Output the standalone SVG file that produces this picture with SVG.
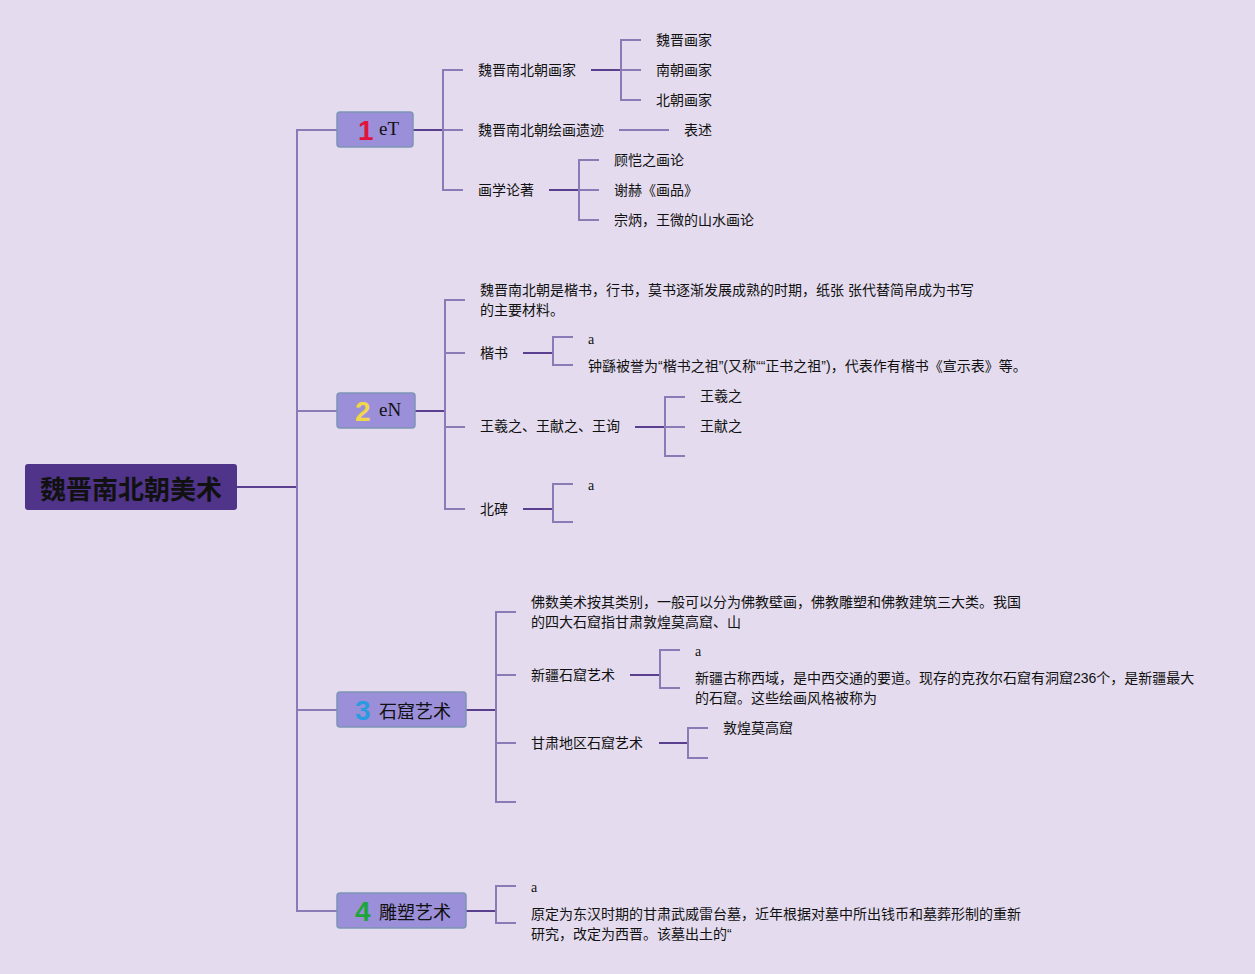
<svg xmlns="http://www.w3.org/2000/svg" width="1255" height="974" viewBox="0 0 1255 974">
<style>
.t{font-family:"Liberation Sans","Noto Sans CJK SC",sans-serif;font-size:14px;fill:#111;dominant-baseline:central}
.s{font-family:"Liberation Serif",serif;font-size:14px;fill:#111;dominant-baseline:central}
.l{stroke:#8a7bb6;stroke-width:2;fill:none}
.d{stroke:#5b3f8f;stroke-width:2;fill:none}
.n{fill:#9b8fd9;stroke:#7d95b5;stroke-width:1.5}
.num{font-family:"Liberation Sans",sans-serif;font-weight:bold;font-size:28px;dominant-baseline:central}
.nt{font-family:"Noto Sans CJK SC","Liberation Sans",sans-serif;font-size:18px;fill:#111;dominant-baseline:central}
.ns{font-family:"Liberation Serif",serif;font-size:19px;fill:#111;dominant-baseline:central}
</style>
<rect width="1255" height="974" fill="#e4dcee"/>
<g id="connectors">
<path class="d" d="M237 487H297"/>
<path class="l" d="M337 130H297V911H337M297 411H337M297 710H337"/>
<path class="d" d="M413 130H443"/>
<path class="l" d="M463 70H443V190H463M443 130H463"/>
<path class="d" d="M591 70H621"/>
<path class="l" d="M641 40H621V100H641M621 70H641"/>
<path class="l" d="M619 130H669"/>
<path class="d" d="M549 190H579"/>
<path class="l" d="M599 160H579V220H599M579 190H599"/>
<path class="d" d="M415 411H445"/>
<path class="l" d="M465 300H445V509H465M445 353H465M445 427H465"/>
<path class="d" d="M523 353H553"/>
<path class="l" d="M573 337H553V365H573"/>
<path class="d" d="M635 427H665"/>
<path class="l" d="M685 397H665V456H685M665 427H685"/>
<path class="d" d="M523 509H553"/>
<path class="l" d="M573 484H553V522H573"/>
<path class="d" d="M466 710H496"/>
<path class="l" d="M516 612H496V802H516M496 675H516M496 743H516"/>
<path class="d" d="M630 675H660"/>
<path class="l" d="M680 650H660V688H680"/>
<path class="d" d="M659 743H688"/>
<path class="l" d="M708 728H688V758H708"/>
<path class="d" d="M466 911H496"/>
<path class="l" d="M516 886H496V923H516"/>
</g>
<g id="root">
<rect x="25" y="464" width="212" height="46" rx="3" fill="#4f3489"/>
<text x="131" y="487" text-anchor="middle" style="font-family:'Noto Sans CJK SC',sans-serif;font-weight:bold;font-size:26px;fill:#111;dominant-baseline:central">魏晋南北朝美术</text>
</g>
<g id="n1">
<rect class="n" x="337" y="112" width="76" height="35" rx="3"/>
<text class="num" x="358" y="130" fill="#e0143c">1</text>
<text class="ns" x="379" y="128">eT</text>
</g>
<g id="n1c">
<text class="t" x="478" y="70">魏晋南北朝画家</text>
<text class="t" x="478" y="130">魏晋南北朝绘画遗迹</text>
<text class="t" x="478" y="190">画学论著</text>
<text class="t" x="656" y="40">魏晋画家</text>
<text class="t" x="656" y="70">南朝画家</text>
<text class="t" x="656" y="100">北朝画家</text>
<text class="t" x="684" y="130">表述</text>
<text class="t" x="614" y="160">顾恺之画论</text>
<text class="t" x="614" y="190">谢赫《画品》</text>
<text class="t" x="614" y="220">宗炳，王微的山水画论</text>
</g>
<g id="n2">
<rect class="n" x="337" y="393" width="78" height="35" rx="3"/>
<text class="num" x="355" y="411" fill="#f2d64a">2</text>
<text class="ns" x="379" y="409">eN</text>
</g>
<g id="n2c">
<text class="t" x="480" y="290">魏晋南北朝是楷书，行书，莫书逐渐发展成熟的时期，纸张 张代替简帛成为书写</text>
<text class="t" x="480" y="310">的主要材料。</text>
<text class="t" x="480" y="353">楷书</text>
<text class="s" x="588" y="339">a</text>
<text class="t" x="588" y="366">钟繇被誉为“楷书之祖”(又称““正书之祖”)，代表作有楷书《宣示表》等。</text>
<text class="t" x="480" y="426">王羲之、王献之、王询</text>
<text class="t" x="700" y="396">王羲之</text>
<text class="t" x="700" y="426">王献之</text>
<text class="t" x="480" y="509">北碑</text>
<text class="s" x="588" y="485">a</text>
</g>
<g id="n3">
<rect class="n" x="337" y="692" width="129" height="35" rx="3"/>
<text class="num" x="355" y="710" fill="#2a9be0">3</text>
<text class="nt" x="379" y="710">石窟艺术</text>
</g>
<g id="n3c">
<text class="t" x="531" y="602">佛数美术按其类别，一般可以分为佛教壁画，佛教雕塑和佛教建筑三大类。我国</text>
<text class="t" x="531" y="622">的四大石窟指甘肃敦煌莫高窟、山</text>
<text class="t" x="531" y="675">新疆石窟艺术</text>
<text class="s" x="695" y="651">a</text>
<text class="t" x="695" y="678">新疆古称西域，是中西交通的要道。现存的克孜尔石窟有洞窟236个，是新疆最大</text>
<text class="t" x="695" y="698">的石窟。这些绘画风格被称为</text>
<text class="t" x="531" y="743">甘肃地区石窟艺术</text>
<text class="t" x="723" y="728">敦煌莫高窟</text>
</g>
<g id="n4">
<rect class="n" x="337" y="893" width="129" height="35" rx="3"/>
<text class="num" x="355" y="911" fill="#1ea53a">4</text>
<text class="nt" x="379" y="911">雕塑艺术</text>
</g>
<g id="n4c">
<text class="s" x="531" y="887">a</text>
<text class="t" x="531" y="914">原定为东汉时期的甘肃武威雷台墓，近年根据对墓中所出钱币和墓葬形制的重新</text>
<text class="t" x="531" y="934">研究，改定为西晋。该墓出土的“</text>
</g>
</svg>
